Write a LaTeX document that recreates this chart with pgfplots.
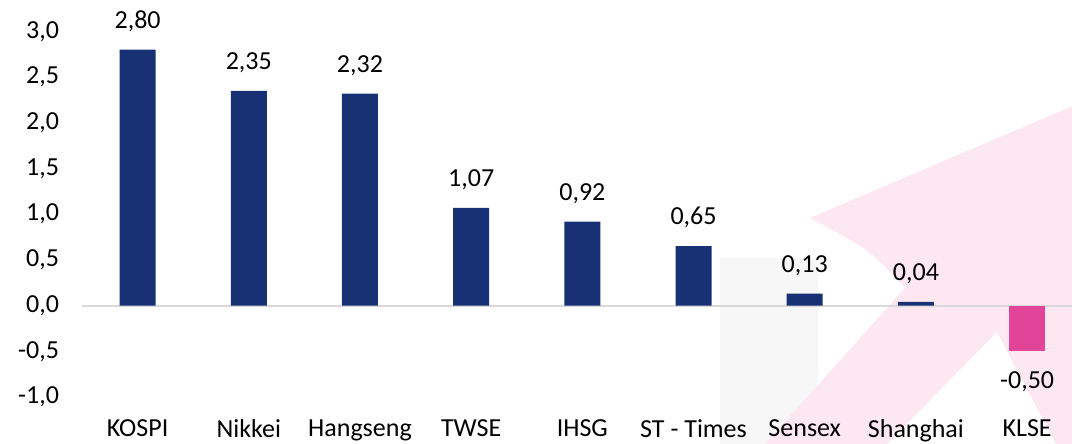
\documentclass[border=0pt]{standalone}
\usepackage{fontspec}
\setmainfont{Carlito}
\usepackage{pgfplots}
\pgfplotsset{compat=1.18}
\definecolor{navy}{RGB}{24,49,117}
\definecolor{hotpink}{RGB}{226,68,154}
\definecolor{wmpink}{RGB}{253,232,241}
\definecolor{zeroline}{RGB}{217,217,217}
\begin{document}
\begin{tikzpicture}
% faint background watermark (pixel coordinates, origin top left)
\begin{scope}[shift={(0,222pt)},x=0.5pt,y=-0.5pt]
\fill[black!3] (720,258) rectangle (818,444);
\fill[wmpink] (765,444) -- (905,288) .. controls (870,250) .. (810,218)
  -- (1110,90) -- (1110,444) -- (1056,444) -- (997,332) -- (887,444) -- cycle;
\end{scope}
\begin{axis}[
at={(41pt,23.5pt)}, anchor=south west,
scale only axis, width=494.8pt, height=182.8pt,
xmin=-0.5, xmax=8.4, ymin=-1, ymax=3,
ybar, bar width=18pt, bar shift=0pt,
clip=false,
axis line style={draw=none},
major tick style={draw=none},
xtick={0,1,2,3,4,5,6,7,8},
xticklabels={KOSPI,Nikkei,Hangseng,TWSE,IHSG,ST - Times,Sensex,Shanghai,KLSE},
ytick={-1,-0.5,0,0.5,1,1.5,2,2.5,3},
/pgf/number format/assume math mode=true,
tick label style={font=\fontsize{13}{15}\selectfont},
yticklabel style={xshift=-8pt, /pgf/number format/use comma, /pgf/number format/fixed,
  /pgf/number format/fixed zerofill, /pgf/number format/precision=1},
xticklabel style={yshift=-3.5pt},
extra y ticks={0}, extra y tick labels={},
extra y tick style={grid=major, major grid style={draw=zeroline, line width=1pt}},
nodes near coords,
nodes near coords style={font=\fontsize{13}{15}\selectfont,
  /pgf/number format/use comma, /pgf/number format/fixed, /pgf/number format/fixed zerofill,
  /pgf/number format/precision=2, /pgf/number format/assume math mode=true},
]
\addplot[fill=navy, draw=none, every node near coord/.append style={yshift=5.5pt}] coordinates {
(0,2.80)
(1,2.35)
(2,2.32)
(3,1.07)
(4,0.92)
(5,0.65)
(6,0.13)
(7,0.04)
};
\addplot[fill=hotpink, draw=none, every node near coord/.append style={yshift=-6.5pt}] coordinates {
(8,-0.50)
};
\end{axis}
\pgfresetboundingbox
\useasboundingbox (0,0) rectangle (536pt,222pt);
\end{tikzpicture}
\end{document}
